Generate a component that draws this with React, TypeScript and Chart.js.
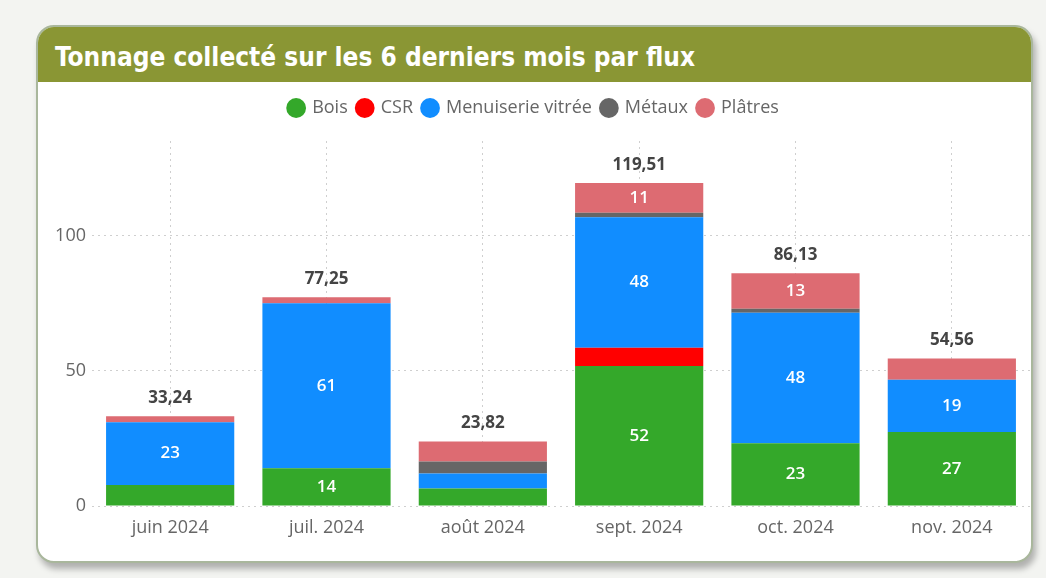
import React, { useEffect, useRef } from "react";
import { Chart, registerables } from "chart.js";

Chart.register(...registerables);

const months = ["juin 2024", "juil. 2024", "août 2024", "sept. 2024", "oct. 2024", "nov. 2024"];
const bois = [7.8, 14, 6.5, 51.8, 23.2, 27.4];
const csr = [0, 0, 0, 6.7, 0, 0];
const menuiserie = [23.2, 61, 5.5, 48.3, 48.3, 19.3];
const metaux = [0, 0, 4.5, 1.7, 1.5, 0];
const platres = [2.24, 2.25, 7.32, 11.01, 13.13, 7.86];
const yTicks = [0, 50, 100];

const FONT = "'Open Sans', 'DejaVu Sans', sans-serif";

const labelPlugin = {
  id: "segLabels",
  afterDatasetsDraw(chart: any) {
    const ctx = chart.ctx;
    ctx.save();
    ctx.textAlign = "center";
    ctx.textBaseline = "middle";
    ctx.font = `600 17px ${FONT}`;
    ctx.fillStyle = "#ffffff";
    chart.data.datasets.forEach((ds: any, di: number) => {
      const meta = chart.getDatasetMeta(di);
      meta.data.forEach((bar: any, i: number) => {
        const v = ds.data[i];
        if (v >= 10) {
          ctx.fillText(String(Math.round(v)), bar.x, (bar.y + bar.base) / 2);
        }
      });
    });
    ctx.font = `bold 17px ${FONT}`;
    ctx.fillStyle = "#444444";
    const yScale = chart.scales.y;
    const meta0 = chart.getDatasetMeta(0);
    months.forEach((_, i) => {
      let total = 0;
      chart.data.datasets.forEach((ds: any) => (total += ds.data[i]));
      const y = yScale.getPixelForValue(total);
      ctx.fillText(total.toFixed(2).replace(".", ","), meta0.data[i].x, y - 18);
    });
    ctx.restore();
  },
};

const legendSpace = {
  id: "legendSpace",
  beforeInit(chart: any) {
    const orig = chart.legend.fit;
    chart.legend.fit = function () {
      orig.bind(chart.legend)();
      this.height = 52;
    };
  },
};

export default function App() {
  const ref = useRef<HTMLCanvasElement>(null);
  useEffect(() => {
    document.body.style.margin = "0";
    const grid = { color: "#cfcfcf", lineWidth: 1 } as any;
    const border = { display: false, dash: [2, 4] } as any;
    const chart = new Chart(ref.current as HTMLCanvasElement, {
      type: "bar",
      data: {
        labels: months,
        datasets: [
          { label: "Bois", data: bois, backgroundColor: "#34A82A" },
          { label: "CSR", data: csr, backgroundColor: "#FF0000" },
          { label: "Menuiserie vitrée", data: menuiserie, backgroundColor: "#118DFF" },
          { label: "Métaux", data: metaux, backgroundColor: "#666666" },
          { label: "Plâtres", data: platres, backgroundColor: "#DD6B72" },
        ],
      },
      options: {
        responsive: false,
        animation: false,
        layout: { padding: { top: 7, left: 0, right: 1, bottom: 0 } },
        datasets: { bar: { categoryPercentage: 0.82, barPercentage: 1.0 } },
        plugins: {
          legend: {
            position: "top",
            labels: {
              usePointStyle: true,
              pointStyle: "circle",
              boxWidth: 14,
              boxHeight: 14,
              padding: 10,
              color: "#666666",
              font: { family: FONT, size: 18 },
            },
          },
          tooltip: { enabled: false },
        },
        scales: {
          x: {
            stacked: true,
            grid: { ...grid, offset: false, drawTicks: false },
            border,
            ticks: { color: "#666666", padding: 11, font: { family: FONT, size: 18 } },
            afterFit: (s: any) => {
              s.height = 54;
            },
          },
          y: {
            stacked: true,
            min: 0,
            max: 135,
            grid: { ...grid, drawTicks: false },
            border,
            afterBuildTicks: (s: any) => {
              s.ticks = yTicks.map((v) => ({ value: v }));
            },
            ticks: { color: "#666666", padding: 6, font: { family: FONT, size: 18 } },
            afterFit: (s: any) => {
              s.width = 54;
            },
          },
        },
      },
      plugins: [labelPlugin, legendSpace],
    });
    return () => chart.destroy();
  }, []);

  return (
    <div style={{ position: "fixed", left: 0, top: 0, width: 1046, height: 578, background: "#f3f4f1", overflow: "hidden" }}>
      <div
        style={{
          position: "absolute",
          left: 36,
          top: 25,
          width: 997,
          height: 538,
          boxSizing: "border-box",
          border: "2px solid #a9b79c",
          borderRadius: 18,
          background: "#ffffff",
          overflow: "hidden",
          boxShadow: "3px 6px 6px rgba(0,0,0,0.28)",
        }}
      >
        <div
          style={{
            height: 55,
            background: "#8A9634",
            color: "#ffffff",
            fontFamily: "'DejaVu Sans Condensed', 'DejaVu Sans', sans-serif",
            fontWeight: "bold",
            fontSize: 26,
            lineHeight: "60px",
            paddingLeft: 17,
            whiteSpace: "nowrap",
          }}
        >
          Tonnage collecté sur les 6 derniers mois par flux
        </div>
        <canvas ref={ref} width={993} height={478} style={{ display: "block" }} />
      </div>
    </div>
  );
}
